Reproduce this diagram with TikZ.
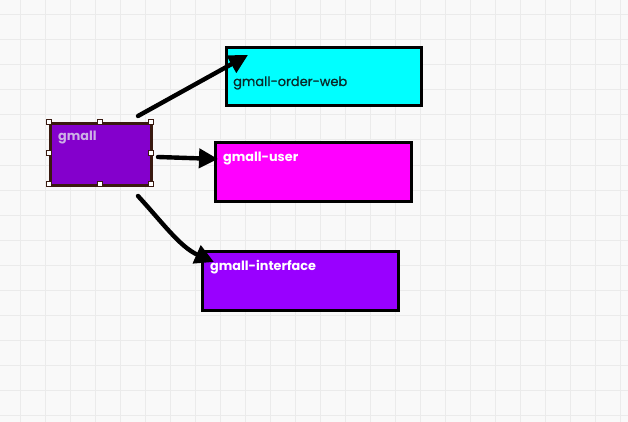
\documentclass[tikz,border=0pt]{standalone}
\usepackage{fontspec}
\setmainfont{Poppins}
\newfontfamily\medfont[FakeBold=0.8]{Poppins}
\usetikzlibrary{arrows.meta}
\definecolor{bgc}{HTML}{F9F9F9}
\definecolor{gridc}{HTML}{EBEBEB}
\definecolor{gmallfill}{HTML}{8400CC}
\definecolor{ifacefill}{HTML}{9900FF}
\definecolor{cyanfill}{HTML}{00FFFF}
\definecolor{magfill}{HTML}{FF00FF}
\definecolor{handlec}{HTML}{3A1A10}
\definecolor{gmalltext}{HTML}{CDB0E6}
\definecolor{darktext}{HTML}{0A2A2A}
\tikzset{
  box/.style={draw=black, line width=2.6pt, inner sep=0pt, anchor=north west},
  lbl/.style={anchor=base west, inner sep=0pt, font=\fontsize{13}{15}\selectfont\medfont},
  blbl/.style={lbl, text=white, font=\fontsize{12.8}{15}\selectfont\bfseries},
  conn/.style={line width=4.4pt, -{Triangle[length=19pt,width=19pt]}, line cap=round},
  handle/.style={draw=handlec, fill=white, line width=0.9pt, minimum size=5pt, inner sep=0pt}
}
\begin{document}
\begin{tikzpicture}[x=1pt,y=-1pt]
\fill[bgc] (0,0) rectangle (628,422);
\useasboundingbox (0,0) rectangle (628,422);
\foreach \gx in {20,45,...,620} \draw[gridc, line width=1pt] (\gx,0) -- (\gx,422);
\foreach \gy in {15,40,...,420} \draw[gridc, line width=1pt] (0,\gy) -- (628,\gy);
% boxes
\node[box, draw=handlec, fill=gmallfill, minimum width=101pt, minimum height=62pt] (gm) at (49,122) {};
\node[box, fill=cyanfill, minimum width=195pt, minimum height=58pt] (ow) at (225,46) {};
\node[box, fill=magfill, minimum width=196pt, minimum height=59pt] (us) at (214,141) {};
\node[box, fill=ifacefill, minimum width=196pt, minimum height=59pt] (if) at (201,250) {};
% labels
\node[blbl, text=gmalltext] (tgm) at (58,141) {gmall};
\node[lbl, text=darktext] (tow) at (233,86) {gmall-order-web};
\node[blbl] (tus) at (223,161) {gmall-user};
\node[blbl] (tif) at (210,270) {gmall-interface};
% selection handles
\foreach \hx/\hy/\hn in {49/122/h1,100/122/h2,151/122/h3,49/153/h4,151/153/h5,49/184/h6,100/184/h7,151/184/h8}
  \node[handle] (\hn) at (\hx,\hy) {};
% connector ends
\coordinate (s1) at (138,116);
\coordinate (e1) at (248,55);
\coordinate (s2) at (158,157);
\coordinate (e2) at (218,159);
\coordinate (s3) at (138,196);
\coordinate (e3) at (214,262);
\draw[conn] (s1) -- (e1);
\draw[conn] (s2) -- (e2);
\draw[conn] (s3) .. controls (162,222) and (180,247) .. (e3);
\end{tikzpicture}
\end{document}
